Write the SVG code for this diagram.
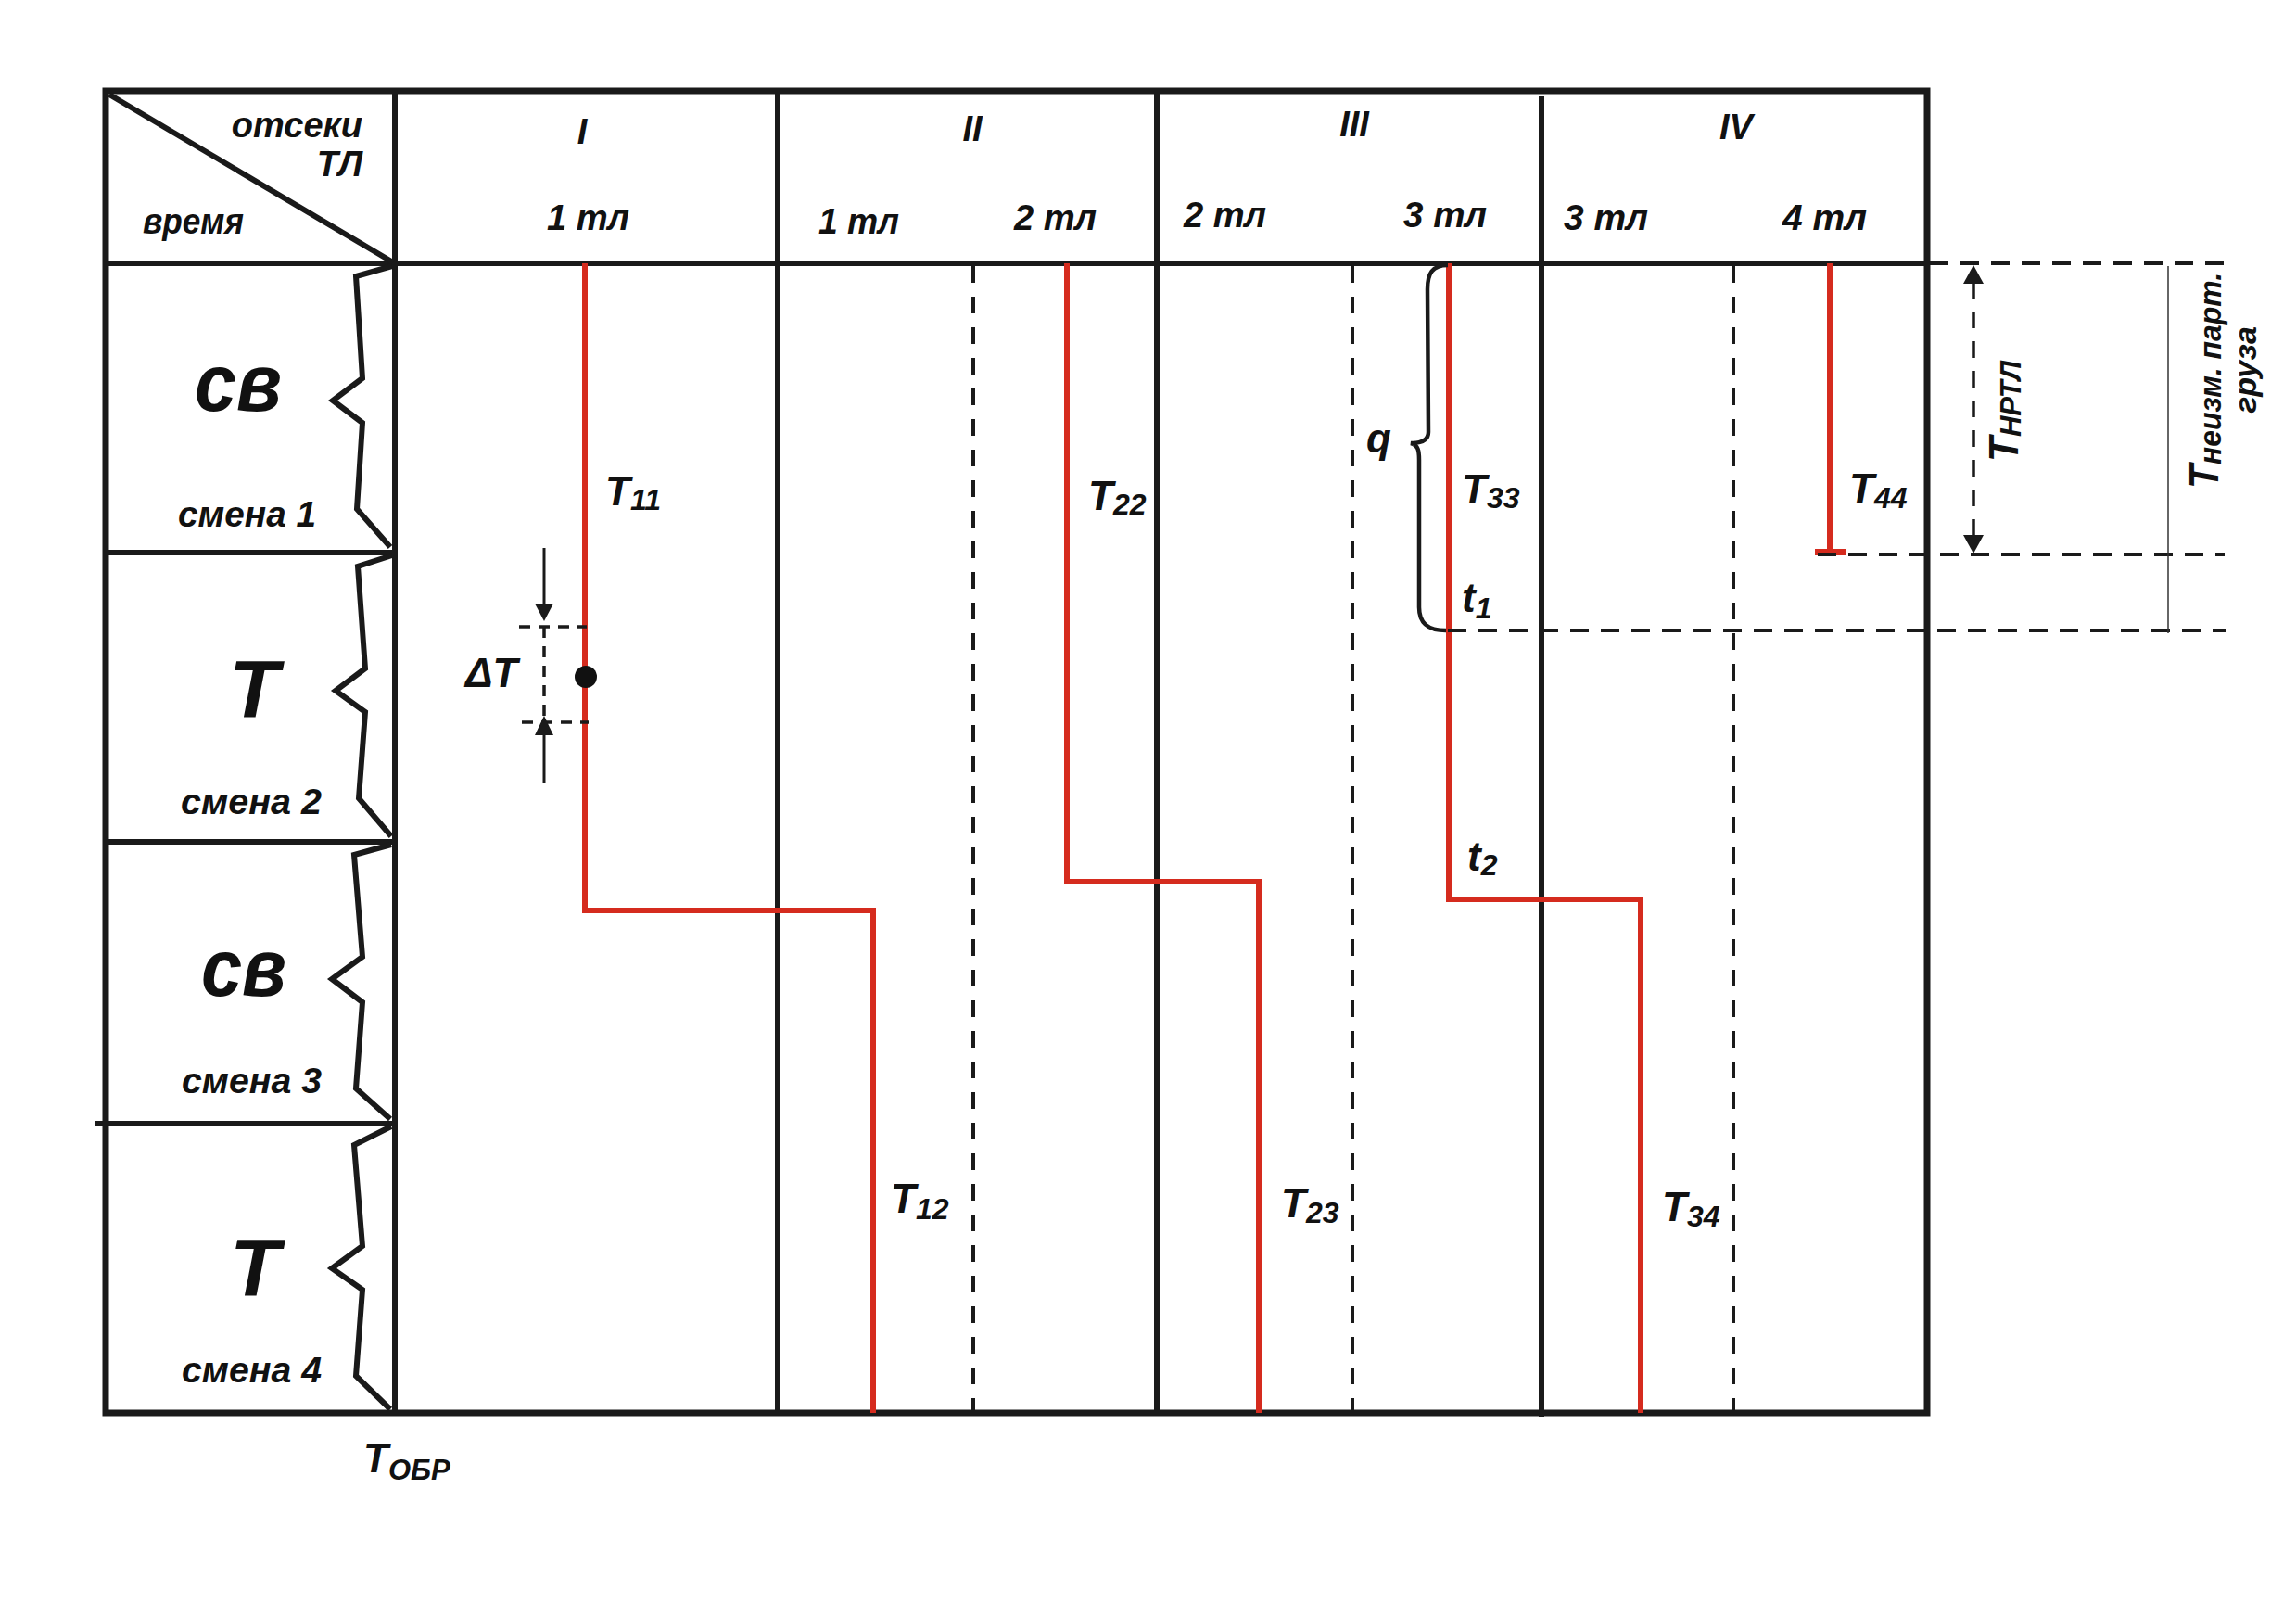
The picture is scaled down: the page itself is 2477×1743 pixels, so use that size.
<svg xmlns="http://www.w3.org/2000/svg" width="2477" height="1743" viewBox="0 0 2477 1743">
<defs>
<style>
text{font-family:"Liberation Sans",Arial,"DejaVu Sans",sans-serif;font-weight:bold;font-style:italic;fill:#111;}
.frame{fill:none;stroke:#1a1a1a;stroke-width:7;}
.grid{stroke:#1a1a1a;stroke-width:6;fill:none;}
.brace{fill:none;stroke:#1a1a1a;stroke-width:6;stroke-linejoin:miter;}
.dcol{stroke:#1a1a1a;stroke-width:4;stroke-dasharray:18 15;fill:none;}
.dh{stroke:#1a1a1a;stroke-width:4;stroke-dasharray:20 13;fill:none;}
.red{fill:none;stroke:#d52b1e;stroke-width:6;}
.big{font-size:88px;}
.hdr{font-size:38px;}
.sm{font-size:38px;}
.lab{font-size:44px;}
.sub{font-size:32px;}
.thin{stroke:#333;stroke-width:1.5;fill:none;}
.arr{stroke:#1a1a1a;stroke-width:3;fill:none;}
.arrd{stroke:#1a1a1a;stroke-width:3.5;fill:none;stroke-dasharray:12 9;}
</style>
</defs>
<rect width="2477" height="1743" fill="#fff"/>

<g id="table">
<rect class="frame" x="114" y="98" width="1965" height="1426"/>
<line class="grid" x1="114" y1="284" x2="2079" y2="284"/>
<line class="grid" x1="426" y1="98" x2="426" y2="1524"/>
<line class="grid" x1="839" y1="98" x2="839" y2="1524"/>
<line class="grid" x1="1248" y1="98" x2="1248" y2="1524"/>
<line class="grid" x1="1663" y1="104" x2="1663" y2="1528"/>
<line class="grid" x1="118" y1="102" x2="424" y2="283"/>
<line class="grid" x1="114" y1="596" x2="426" y2="596"/>
<line class="grid" x1="114" y1="908" x2="426" y2="908"/>
<line class="grid" x1="103" y1="1212" x2="426" y2="1212"/>
<line class="dcol" x1="1050" y1="287" x2="1050" y2="1524"/>
<line class="dcol" x1="1459" y1="287" x2="1459" y2="1524"/>
<line class="dcol" x1="1870" y1="287" x2="1870" y2="1524"/>
</g>

<g id="header">
<text class="hdr" x="391" y="148" text-anchor="end">отсеки</text>
<text class="hdr" x="391" y="190" text-anchor="end">ТЛ</text>
<text class="hdr" x="154" y="252" textLength="109" lengthAdjust="spacingAndGlyphs">время</text>
<text class="hdr" x="628" y="155" text-anchor="middle">I</text>
<text class="hdr" x="1049" y="152" text-anchor="middle">II</text>
<text class="hdr" x="1461" y="147" text-anchor="middle">III</text>
<text class="hdr" x="1873" y="150" text-anchor="middle">IV</text>
<text class="hdr" x="590" y="248" textLength="89" lengthAdjust="spacingAndGlyphs">1 тл</text>
<text class="hdr" x="883" y="252" textLength="87" lengthAdjust="spacingAndGlyphs">1 тл</text>
<text class="hdr" x="1094" y="248" textLength="89" lengthAdjust="spacingAndGlyphs">2 тл</text>
<text class="hdr" x="1277" y="245" textLength="89" lengthAdjust="spacingAndGlyphs">2 тл</text>
<text class="hdr" x="1514" y="245" textLength="90" lengthAdjust="spacingAndGlyphs">3 тл</text>
<text class="hdr" x="1687" y="248" textLength="91" lengthAdjust="spacingAndGlyphs">3 тл</text>
<text class="hdr" x="1923" y="248" textLength="91" lengthAdjust="spacingAndGlyphs">4 тл</text>
</g>

<g id="row1">
<path class="brace" d="M423,287 L384,298 L391,408 L359,432 L391,456 L385,549 L421,590"/>
<text class="big" x="210" y="443" textLength="94" lengthAdjust="spacingAndGlyphs">св</text>
<text class="sm" x="192" y="568" textLength="149" lengthAdjust="spacingAndGlyphs">смена 1</text>
</g>
<g id="row2">
<path class="brace" d="M423,599 L386,611 L394,721 L362,745 L394,768 L387,861 L422,902"/>
<text class="big" x="247" y="773">Т</text>
<text class="sm" x="195" y="878" textLength="152" lengthAdjust="spacingAndGlyphs">смена 2</text>
</g>
<g id="row3">
<path class="brace" d="M422,911 L382,922 L391,1032 L358,1056 L391,1081 L384,1174 L421,1207"/>
<text class="big" x="217" y="1074" textLength="92" lengthAdjust="spacingAndGlyphs">св</text>
<text class="sm" x="196" y="1179" textLength="151" lengthAdjust="spacingAndGlyphs">смена 3</text>
</g>
<g id="row4">
<path class="brace" d="M422,1215 L382,1235 L391,1344 L358,1368 L391,1391 L384,1484 L421,1520"/>
<text class="big" x="248" y="1397">Т</text>
<text class="sm" x="196" y="1491" textLength="151" lengthAdjust="spacingAndGlyphs">смена 4</text>
</g>

<g id="connectors">
<polyline class="red" points="631,284 631,982 942,982 942,1524"/>
<polyline class="red" points="1151,284 1151,951 1358,951 1358,1524"/>
<polyline class="red" points="1563,284 1563,970 1770,970 1770,1524"/>
<line class="red" x1="1974" y1="284" x2="1974" y2="595"/>
<rect x="1958" y="592" width="34" height="7" fill="#d52b1e"/>
</g>

<g id="labels">
<text class="lab" x="653" y="545">T<tspan class="sub" dy="5">11</tspan></text>
<text class="lab" x="1174" y="550">T<tspan class="sub" dy="5">22</tspan></text>
<text class="lab" x="1577" y="543">T<tspan class="sub" dy="5">33</tspan></text>
<text class="lab" x="1995" y="542">T<tspan class="sub" dy="6">44</tspan></text>
<text class="lab" x="961" y="1308">T<tspan class="sub" dy="7">12</tspan></text>
<text class="lab" x="1382" y="1313">T<tspan class="sub" dy="6">23</tspan></text>
<text class="lab" x="1793" y="1317">T<tspan class="sub" dy="6">34</tspan></text>
<text class="lab" x="1474" y="488">q</text>
<text class="lab" x="1577" y="660">t<tspan class="sub" dy="7">1</tspan></text>
<text class="lab" x="1583" y="939">t<tspan class="sub" dy="5">2</tspan></text>
<text class="lab" x="392" y="1588">Т<tspan style="font-size:31px" dy="8">ОБР</tspan></text>
</g>

<g id="q-brace">
<path class="brace" style="stroke-width:4.5" d="M1562,286 C1545,286 1540,295 1540,312 L1541,466 C1541,474 1535,478 1522,478 C1530,480 1531,486 1531,496 L1531,655 C1531,672 1540,680 1560,680"/>
</g>

<g id="delta-t">
<line class="arr" x1="587" y1="591" x2="587" y2="655"/>
<polygon points="587,670 577,651 597,651" fill="#1a1a1a"/>
<line class="arrd" x1="560" y1="676" x2="633" y2="676"/>
<line class="arrd" x1="587" y1="676" x2="587" y2="779"/>
<line class="arrd" x1="563" y1="779" x2="635" y2="779"/>
<polygon points="587,772 577,793 597,793" fill="#1a1a1a"/>
<line class="arr" x1="587" y1="793" x2="587" y2="845"/>
<circle cx="632" cy="730" r="12" fill="#111"/>
<text class="lab" x="502" y="741">ΔT</text>
</g>

<g id="right-dims">
<line class="dh" x1="2082" y1="284" x2="2401" y2="284"/>
<line class="dh" x1="1961" y1="598" x2="2400" y2="598"/>
<line class="dh" x1="1562" y1="680" x2="2402" y2="680"/>
<line class="thin" x1="2339" y1="287" x2="2339" y2="683"/>
<line class="arrd" style="stroke-dasharray:18 14" x1="2129" y1="304" x2="2129" y2="578"/>
<polygon points="2129,286 2118,306 2140,306" fill="#1a1a1a"/>
<polygon points="2129,597 2118,577 2140,577" fill="#1a1a1a"/>
<text class="lab" transform="translate(2177,498) rotate(-90)">T<tspan style="font-size:31px" dy="3">НРТЛ</tspan></text>
<text class="lab" transform="translate(2393,527) rotate(-90)" textLength="233" lengthAdjust="spacingAndGlyphs">T<tspan style="font-size:33px" dy="3">неизм. парт.</tspan></text>
<text style="font-size:34px" text-anchor="middle" transform="translate(2434,399) rotate(-90)">груза</text>
</g>
</svg>
